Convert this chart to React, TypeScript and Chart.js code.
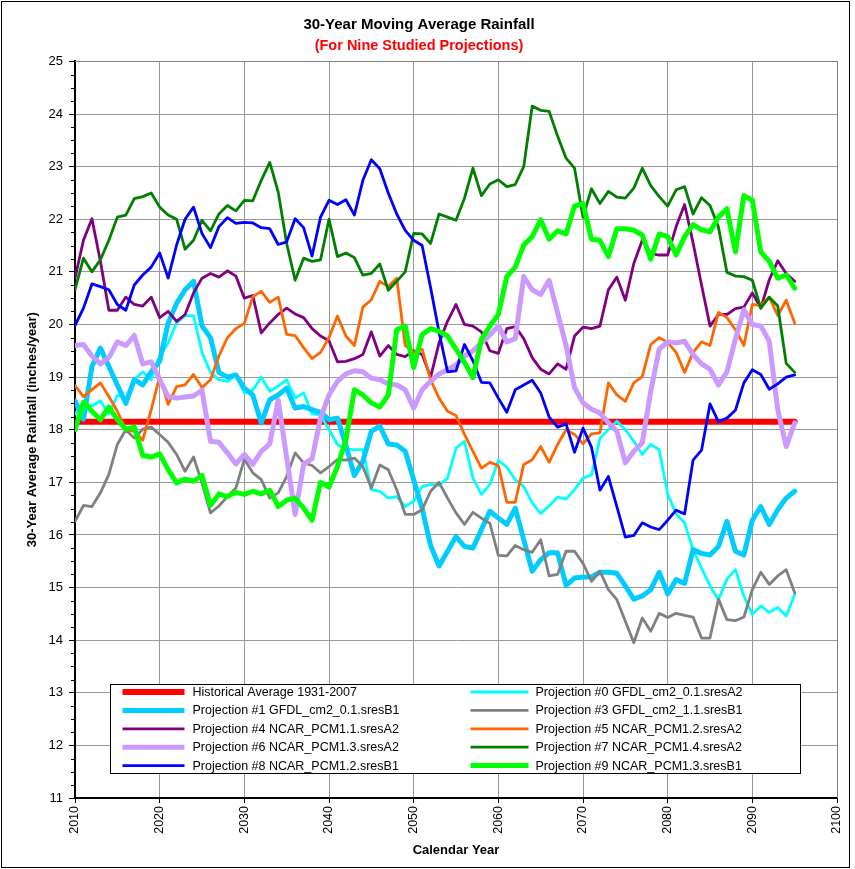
import React, { useEffect, useRef } from "react";
import { Chart, registerables } from "chart.js";

Chart.register(...registerables);

const years = [
  2010, 2011, 2012, 2013, 2014, 2015, 2016, 2017, 2018, 2019,
  2020, 2021, 2022, 2023, 2024, 2025, 2026, 2027, 2028, 2029,
  2030, 2031, 2032, 2033, 2034, 2035, 2036, 2037, 2038, 2039,
  2040, 2041, 2042, 2043, 2044, 2045, 2046, 2047, 2048, 2049,
  2050, 2051, 2052, 2053, 2054, 2055, 2056, 2057, 2058, 2059,
  2060, 2061, 2062, 2063, 2064, 2065, 2066, 2067, 2068, 2069,
  2070, 2071, 2072, 2073, 2074, 2075, 2076, 2077, 2078, 2079,
  2080, 2081, 2082, 2083, 2084, 2085, 2086, 2087, 2088, 2089,
  2090, 2091, 2092, 2093, 2094, 2095,
];

const histYears = [2010, 2095];
const histValues = [18.15, 18.15];

const p0 = [
  18.3, 18.5, 18.45, 18.55, 18.3, 18.65, 18.6, 18.95, 19.1, 18.95,
  19.4, 19.65, 20.03, 20.17, 20.17, 19.47, 19.09, 18.95, 18.92, 19.04,
  18.7, 18.75, 19.0, 18.73, 18.83, 18.95, 18.6, 18.7, 18.3, 18.28,
  18.0, 17.72, 17.63, 17.62, 17.62, 16.86, 16.83, 16.7, 16.73, 16.54,
  16.64, 16.92, 16.96, 16.94, 17.08, 17.65, 17.78, 17.08, 16.77, 16.96,
  17.42, 17.29, 17.05, 16.92, 16.61, 16.41, 16.55, 16.72, 16.68, 16.86,
  17.08, 17.14, 17.84, 18.0, 18.16, 18.0, 17.78, 17.53, 17.72, 17.62,
  16.78, 16.4, 16.23, 15.72, 15.37, 15.03, 14.77, 15.16, 15.34, 14.84,
  14.49, 14.65, 14.53, 14.62, 14.46, 14.87,
];

const p1 = [
  18.55, 18.2, 19.2, 19.55, 19.2, 18.85, 18.5, 18.95, 18.85, 19.1,
  19.3, 20.03, 20.4, 20.66, 20.82, 19.97, 19.75, 19.09, 19.0, 19.04,
  18.79, 18.66, 18.13, 18.57, 18.66, 18.79, 18.41, 18.44, 18.38, 18.33,
  18.19, 18.22, 17.7, 17.13, 17.4, 17.97, 18.07, 17.73, 17.71, 17.59,
  17.05, 16.5, 15.8, 15.41, 15.69, 15.97, 15.78, 15.75, 16.1, 16.45,
  16.32, 16.2, 16.51, 15.91, 15.31, 15.53, 15.66, 15.66, 15.04, 15.18,
  15.2, 15.2, 15.29, 15.29, 15.27, 15.03, 14.78, 14.84, 14.96, 15.29,
  14.88, 15.15, 15.08, 15.72, 15.65, 15.62, 15.78, 16.26, 15.69, 15.62,
  16.28, 16.54, 16.2, 16.48, 16.7, 16.83,
];

const p3 = [
  16.26, 16.56, 16.54, 16.8, 17.15, 17.72, 18.0, 17.84, 18.01, 18.05,
  17.91, 17.76, 17.53, 17.21, 17.48, 16.99, 16.42, 16.55, 16.73, 16.89,
  17.44, 17.18, 17.05, 16.7, 16.8, 17.11, 17.56, 17.37, 17.32, 17.18,
  17.3, 17.43, 17.42, 17.46, 17.3, 16.89, 17.33, 17.24, 16.86, 16.39,
  16.39, 16.48, 16.83, 17.0, 16.7, 16.42, 16.2, 16.43, 16.32, 16.22,
  15.61, 15.6, 15.8, 15.72, 15.67, 15.91, 15.22, 15.25, 15.69, 15.69,
  15.46, 15.12, 15.31, 14.96, 14.77, 14.36, 13.95, 14.42, 14.17, 14.51,
  14.43, 14.51, 14.47, 14.44, 14.04, 14.04, 14.78, 14.39, 14.37, 14.44,
  14.96, 15.29, 15.06, 15.22, 15.34, 14.9,
];

const p4 = [
  20.88, 21.6, 22.01, 21.2, 20.27, 20.27, 20.52, 20.38, 20.35, 20.52,
  20.13, 20.25, 20.06, 20.19, 20.6, 20.88, 20.97, 20.9, 21.02, 20.92,
  20.5, 20.55, 19.84, 20.03, 20.19, 20.31, 20.2, 20.13, 19.92, 19.78,
  19.69, 19.29, 19.3, 19.35, 19.43, 19.86, 19.4, 19.6, 19.43, 19.39,
  19.5, 19.43, 19.0, 19.65, 20.06, 20.38, 20.0, 19.97, 19.86, 19.5,
  19.45, 19.92, 19.96, 19.73, 19.37, 19.15, 19.06, 19.25, 19.15, 19.78,
  19.95, 19.92, 19.97, 20.66, 20.9, 20.46, 21.16, 21.6, 21.35, 21.32,
  21.32, 21.86, 22.28, 21.55, 20.75, 19.97, 20.19, 20.19, 20.3, 20.33,
  20.6, 20.31, 20.85, 21.21, 20.97, 20.82,
];

const p5 = [
  18.84, 18.63, 18.76, 18.89, 18.63, 18.35, 18.0, 17.97, 17.8, 18.38,
  19.01, 18.48, 18.82, 18.85, 19.05, 18.8, 18.95, 19.4, 19.75, 19.92,
  20.02, 20.53, 20.63, 20.42, 20.52, 19.81, 19.79, 19.56, 19.35, 19.47,
  19.75, 20.16, 19.78, 19.6, 20.33, 20.47, 20.82, 20.72, 20.88, 19.6,
  19.47, 19.53, 18.95, 18.6, 18.35, 18.27, 17.91, 17.59, 17.27, 17.38,
  17.32, 16.62, 16.62, 17.34, 17.43, 17.68, 17.38, 17.72, 18.0, 17.91,
  17.73, 17.92, 17.94, 18.89, 18.66, 18.54, 18.89, 19.01, 19.62, 19.75,
  19.66, 19.47, 19.09, 19.47, 19.67, 19.6, 20.23, 20.13, 19.9, 19.6,
  20.38, 20.36, 20.52, 20.17, 20.46, 20.03,
];

const p6 = [
  19.6, 19.62, 19.4, 19.25, 19.37, 19.67, 19.6, 19.79, 19.25, 19.29,
  18.95, 18.63, 18.6, 18.62, 18.64, 18.75, 17.78, 17.76, 17.56, 17.35,
  17.53, 17.34, 17.59, 17.73, 18.56, 17.47, 16.39, 17.34, 17.45, 18.22,
  18.66, 18.92, 19.06, 19.12, 19.1, 18.98, 18.95, 18.87, 18.85, 18.76,
  18.41, 18.76, 18.92, 19.06, 19.14, 19.23, 19.4, 19.5, 19.65, 19.8,
  19.97, 19.67, 19.73, 20.91, 20.66, 20.57, 20.84, 20.22, 19.6, 18.8,
  18.51, 18.39, 18.32, 18.13, 17.97, 17.37, 17.59, 17.75, 18.73, 19.53,
  19.67, 19.65, 19.68, 19.43, 19.25, 19.15, 18.85, 19.1, 19.72, 20.28,
  20.0, 19.97, 19.68, 18.38, 17.68, 18.13,
];

const p7 = [
  20.66, 21.26, 21.0, 21.23, 21.6, 22.04, 22.08, 22.39, 22.43, 22.5,
  22.23, 22.08, 22.0, 21.43, 21.6, 21.98, 21.78, 22.1, 22.26, 22.16,
  22.36, 22.35, 22.74, 23.08, 22.52, 21.54, 20.84, 21.26, 21.2, 21.23,
  22.0, 21.29, 21.36, 21.27, 20.94, 20.97, 21.15, 20.65, 20.82, 21.0,
  21.73, 21.72, 21.54, 22.1, 22.04, 21.98, 22.4, 22.97, 22.45, 22.67,
  22.75, 22.62, 22.66, 23.0, 24.15, 24.07, 24.05, 23.58, 23.16, 22.97,
  22.04, 22.58, 22.3, 22.53, 22.42, 22.4, 22.59, 22.97, 22.64, 22.43,
  22.25, 22.56, 22.62, 22.1, 22.41, 22.26, 21.85, 20.99, 20.92, 20.91,
  20.84, 20.31, 20.52, 20.35, 19.26, 19.09,
];

const p8 = [
  19.98, 20.31, 20.77, 20.72, 20.66, 20.38, 20.27, 20.75, 20.94, 21.09,
  21.36, 20.88, 21.51, 22.0, 22.23, 21.73, 21.46, 21.86, 22.03, 21.92,
  21.94, 21.93, 21.84, 21.82, 21.52, 21.57, 22.01, 21.84, 21.3, 22.04,
  22.36, 22.28, 22.37, 22.08, 22.74, 23.13, 22.96, 22.5, 22.1, 21.79,
  21.6, 21.5, 20.7, 19.85, 19.1, 19.12, 19.62, 19.31, 18.9, 18.89,
  18.6, 18.33, 18.76, 18.85, 18.94, 18.7, 18.24, 18.05, 18.11, 17.57,
  18.03, 17.67, 16.85, 17.11, 16.54, 15.96, 15.99, 16.23, 16.15, 16.1,
  16.28, 16.47, 16.4, 17.42, 17.61, 18.49, 18.15, 18.22, 18.37, 18.89,
  19.14, 19.05, 18.77, 18.87, 19.0, 19.04,
];

const p9 = [
  18.0, 18.52, 18.35, 18.19, 18.43, 18.19, 18.01, 18.05, 17.51, 17.48,
  17.54, 17.24, 16.99, 17.06, 17.02, 17.13, 16.56, 16.78, 16.73, 16.81,
  16.77, 16.83, 16.78, 16.85, 16.54, 16.66, 16.7, 16.51, 16.28, 17.0,
  16.91, 17.3, 17.81, 18.76, 18.66, 18.51, 18.43, 18.66, 19.9, 19.97,
  19.18, 19.81, 19.92, 19.87, 19.78, 19.53, 19.28, 18.99, 19.72, 19.97,
  20.19, 20.91, 21.09, 21.51, 21.67, 21.99, 21.62, 21.78, 21.72, 22.25,
  22.3, 21.62, 21.6, 21.29, 21.82, 21.82, 21.79, 21.7, 21.24, 21.72,
  21.67, 21.32, 21.67, 21.9, 21.8, 21.76, 22.04, 22.2, 21.38, 22.45,
  22.36, 21.38, 21.2, 20.88, 20.94, 20.69,
];

const yTicks = [11, 12, 13, 14, 15, 16, 17, 18, 19, 20, 21, 22, 23, 24, 25];
const xTicks = [2010, 2020, 2030, 2040, 2050, 2060, 2070, 2080, 2090, 2100];

const titleText = "30-Year Moving Average Rainfall";
const subtitleText = "(For Nine Studied Projections)";
const yTitle = "30-Year Average Rainfall (inches/year)";
const xTitle = "Calendar Year";

const FONT = "Arial, 'Liberation Sans', sans-serif";

type Spec = { label: string; xs: number[]; ys: number[]; color: string; width: number };

export default function App() {
  const ref = useRef<HTMLCanvasElement>(null);

  useEffect(() => {
    const canvas = ref.current;
    if (!canvas) return;

    const specs: Spec[] = [
      { label: "Historical Average 1931-2007", xs: histYears, ys: histValues, color: "#FF0000", width: 6 },
      { label: "Projection #0 GFDL_cm2_0.1.sresA2", xs: years, ys: p0, color: "#00FFFF", width: 2.8 },
      { label: "Projection #1 GFDL_cm2_0.1.sresB1", xs: years, ys: p1, color: "#00CCFF", width: 5 },
      { label: "Projection #3 GFDL_cm2_1.1.sresB1", xs: years, ys: p3, color: "#808080", width: 2.8 },
      { label: "Projection #4 NCAR_PCM1.1.sresA2", xs: years, ys: p4, color: "#800080", width: 2.8 },
      { label: "Projection #5 NCAR_PCM1.2.sresA2", xs: years, ys: p5, color: "#FF6600", width: 2.8 },
      { label: "Projection #6 NCAR_PCM1.3.sresA2", xs: years, ys: p6, color: "#CC99FF", width: 5 },
      { label: "Projection #7 NCAR_PCM1.4.sresA2", xs: years, ys: p7, color: "#008000", width: 2.8 },
      { label: "Projection #8 NCAR_PCM1.2.sresB1", xs: years, ys: p8, color: "#0000FF", width: 2.8 },
      { label: "Projection #9 NCAR_PCM1.3.sresB1", xs: years, ys: p9, color: "#00FF00", width: 5 },
    ];

    const datasets = specs.map((s, i) => ({
      label: s.label,
      data: s.xs.map((x, j) => ({ x, y: s.ys[j] })),
      borderColor: s.color,
      backgroundColor: s.color,
      borderWidth: s.width,
      pointRadius: 0,
      tension: 0,
      fill: false,
      borderJoinStyle: "round" as const,
      borderCapStyle: "round" as const,
      order: specs.length - i,
    }));

    const framePlugin = {
      id: "frame",
      beforeDraw(chart: any) {
        const ctx = chart.ctx;
        ctx.save();
        ctx.fillStyle = "#ffffff";
        ctx.fillRect(0, 0, chart.width, chart.height);
        ctx.restore();
      },
      beforeDatasetsDraw(chart: any) {
        const { ctx, chartArea: ca, scales } = chart;
        ctx.save();
        ctx.strokeStyle = "#808080";
        ctx.lineWidth = 1;
        ctx.beginPath();
        ctx.moveTo(Math.round(ca.left), Math.round(ca.top) + 0.5);
        ctx.lineTo(Math.round(ca.right) + 0.5, Math.round(ca.top) + 0.5);
        ctx.lineTo(Math.round(ca.right) + 0.5, Math.round(ca.bottom));
        ctx.stroke();
        // minor ticks on the y axis
        const y = scales.y;
        ctx.strokeStyle = "#000000";
        ctx.lineWidth = 1;
        for (let i = 0; i < yTicks.length - 1; i++) {
          for (let k = 1; k < 4; k++) {
            const v = yTicks[i] + k * 0.25;
            const py = Math.round(y.getPixelForValue(v)) + 0.5;
            ctx.beginPath();
            ctx.moveTo(ca.left - 4, py);
            ctx.lineTo(ca.left, py);
            ctx.stroke();
          }
        }
        ctx.restore();
      },
      afterDraw(chart: any) {
        const { ctx, chartArea: ca } = chart;
        ctx.save();
        // legend
        const bx = Math.round(ca.left) + 35.5;
        const by = Math.round(ca.top) + 623.5;
        const bw = 690;
        const bh = 89;
        ctx.fillStyle = "#ffffff";
        ctx.fillRect(bx, by, bw, bh);
        ctx.strokeStyle = "#000000";
        ctx.lineWidth = 1;
        ctx.strokeRect(bx, by, bw, bh);
        ctx.font = `12.5px ${FONT}`;
        ctx.textBaseline = "middle";
        ctx.textAlign = "left";
        const rowH = 18.4;
        for (let r = 0; r < 5; r++) {
          const cy = by + 7.5 + r * rowH;
          for (let c = 0; c < 2; c++) {
            const s = specs[r * 2 + c];
            const lx0 = c === 0 ? bx + 12 : bx + 360;
            const lx1 = c === 0 ? bx + 74 : bx + 418;
            const tx = c === 0 ? bx + 82 : bx + 425;
            ctx.strokeStyle = s.color;
            ctx.lineWidth = s.width;
            ctx.lineCap = "butt";
            ctx.beginPath();
            ctx.moveTo(lx0, cy);
            ctx.lineTo(lx1, cy);
            ctx.stroke();
            ctx.fillStyle = "#000000";
            ctx.fillText(s.label, tx, cy + 0.5);
          }
        }
        // outer frame
        ctx.strokeStyle = "#000000";
        ctx.lineWidth = 1;
        ctx.strokeRect(1.5, 1.5, chart.width - 7, chart.height - 3);
        ctx.restore();
      },
    };

    const chart = new Chart(canvas, {
      type: "line",
      data: { datasets: datasets as any },
      options: {
        animation: false,
        responsive: false,
        devicePixelRatio: 1,
        layout: { padding: { left: 0, right: 17, top: 0, bottom: 0 } },
        plugins: {
          legend: { display: false },
          tooltip: { enabled: false },
          title: {
            display: true,
            text: titleText,
            color: "#000000",
            font: { family: FONT, size: 15, weight: "bold" },
            padding: { top: 16, bottom: 3 },
          },
          subtitle: {
            display: true,
            text: subtitleText,
            color: "#FF0000",
            font: { family: FONT, size: 14.5, weight: "bold" },
            padding: { top: 0, bottom: 7 },
          },
        },
        scales: {
          x: {
            type: "linear",
            min: 2010,
            max: 2100,
            afterFit: (scale: any) => {
              scale.height = 71;
            },
            afterBuildTicks: (scale: any) => {
              scale.ticks = xTicks.map((v) => ({ value: v }));
            },
            ticks: {
              stepSize: 10,
              maxRotation: 90,
              minRotation: 90,
              color: "#000000",
              padding: 3,
              font: { family: FONT, size: 12.5 },
              callback: (v: any) => String(v),
            },
            grid: {
              color: "#999999",
              lineWidth: 1,
              drawTicks: true,
              tickLength: 5,
              tickColor: "#000000",
            },
            border: { display: true, color: "#000000", width: 2 },
            title: {
              display: true,
              text: xTitle,
              color: "#000000",
              font: { family: FONT, size: 13, weight: "bold" },
              padding: { top: 0, bottom: 11 },
            },
          },
          y: {
            type: "linear",
            min: 11,
            max: 25,
            afterFit: (scale: any) => {
              scale.width = 75;
            },
            afterBuildTicks: (scale: any) => {
              scale.ticks = yTicks.map((v) => ({ value: v }));
            },
            ticks: {
              stepSize: 1,
              color: "#000000",
              padding: 6,
              font: { family: FONT, size: 13 },
              callback: (v: any) => String(v),
            },
            grid: {
              color: "#999999",
              lineWidth: 1,
              drawTicks: true,
              tickLength: 6,
              tickColor: "#000000",
            },
            border: { display: true, color: "#000000", width: 2 },
            title: {
              display: true,
              text: yTitle,
              color: "#000000",
              font: { family: FONT, size: 13, weight: "bold" },
              padding: { top: 25, bottom: 0 },
            },
          },
        },
      },
      plugins: [framePlugin],
    });

    return () => {
      chart.destroy();
    };
  }, []);

  return (
    <div style={{ position: "absolute", left: 0, top: 0, width: 855, height: 869 }}>
      <canvas ref={ref} width={855} height={869} style={{ display: "block" }} />
    </div>
  );
}
